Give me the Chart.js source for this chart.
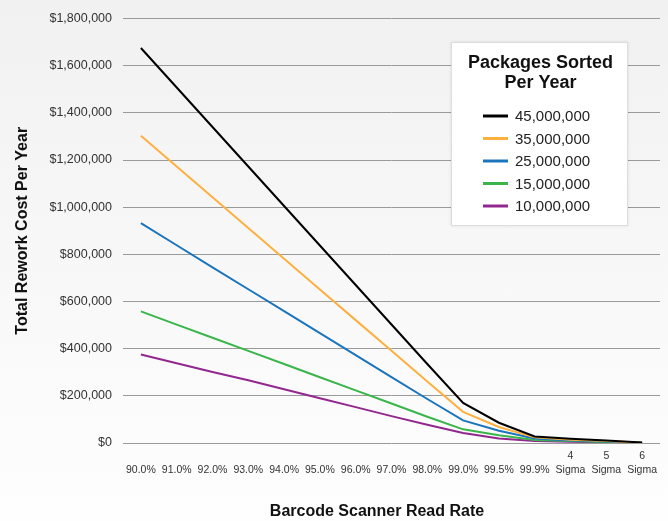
<!DOCTYPE html>
<html>
<head>
<meta charset="utf-8">
<script src="https://cdn.jsdelivr.net/npm/chart.js@4.4.1/dist/chart.umd.min.js"></script>
<style>
    html, body { margin: 0; padding: 0; }
    body { width: 668px; height: 521px; background: linear-gradient(#f1f1f1, #fefefe); }
    #chartContainer { position: relative; width: 668px; height: 521px; }
</style>
</head>
<body>
<div id="chartContainer"><canvas id="reworkChart"></canvas></div>
<script>
// Chart data
const readRates = ["90.0%", "91.0%", "92.0%", "93.0%", "94.0%", "95.0%", "96.0%", "97.0%",
    "98.0%", "99.0%", "99.5%", "99.9%", "4 Sigma", "5 Sigma", "6 Sigma"];
const seriesNames = ["45,000,000", "35,000,000", "25,000,000", "15,000,000", "10,000,000"];
const pkg45M = [1675000, 1507500, 1340000, 1172500, 1005000, 837500, 670000, 502500, 335000, 170000, 86000, 28000, 18000, 11000, 2000];
const pkg35M = [1302500, 1172000, 1042000, 912000, 781500, 651000, 521000, 391000, 260500, 132000, 68000, 24000, 14000, 8000, 1500];
const pkg25M = [932000, 838500, 745000, 652000, 559000, 466000, 372500, 279500, 186500, 96000, 52000, 19000, 11000, 6000, 1000];
const pkg15M = [558000, 502000, 446500, 390500, 335000, 279000, 223000, 167500, 111500, 58000, 33000, 13000, 8000, 4000, 800];
const pkg10M = [375000, 338000, 301000, 266000, 228000, 190000, 152000, 114000, 77000, 42000, 19000, 8000, 5000, 3000, 500];
const yTickMax = 1800000;
const yTickStep = 200000;
const legendTitle = ["Packages Sorted", "Per Year"];
const xTitle = "Barcode Scanner Read Rate";

const colors = ["#000000", "#FBB040", "#1B75BC", "#39B54A", "#92278F"];
const sans = "'Liberation Sans', Arial, sans-serif";

const allSeries = [pkg45M, pkg35M, pkg25M, pkg15M, pkg10M];
const data = {
    labels: readRates,
    datasets: allSeries.map(function (values, i) {
        return {
            label: seriesNames[i],
            data: values,
            borderColor: colors[i],
            backgroundColor: colors[i],
            borderWidth: 2,
            pointRadius: 0,
            tension: 0,
            fill: false
        };
    })
};

// Legend box inside the plot + x axis title (centred a bit left of the plot centre)
const overlay = {
    id: "overlay",
    afterDatasetsDraw(chart) {
        const ctx = chart.ctx;
        const x = 451, y = 42, w = 177, h = 184;
        ctx.save();
        ctx.shadowColor = "rgba(0,0,0,0.10)";
        ctx.shadowBlur = 3;
        ctx.fillStyle = "#ffffff";
        ctx.fillRect(x, y, w, h);
        ctx.shadowColor = "transparent";
        ctx.strokeStyle = "#dddddd";
        ctx.lineWidth = 1;
        ctx.strokeRect(x + 0.5, y + 0.5, w - 1, h - 1);

        ctx.fillStyle = "#111111";
        ctx.font = "bold 18px " + sans;
        ctx.textAlign = "center";
        ctx.textBaseline = "middle";
        legendTitle.forEach(function (line, i) {
            ctx.fillText(line, x + w / 2 + 1, 63 + i * 20.5);
        });

        ctx.font = "15px " + sans;
        ctx.textAlign = "left";
        chart.data.datasets.forEach(function (ds, i) {
            const yy = 116 + i * 22.5;
            ctx.strokeStyle = ds.borderColor;
            ctx.lineWidth = 3;
            ctx.beginPath();
            ctx.moveTo(483, yy);
            ctx.lineTo(508, yy);
            ctx.stroke();
            ctx.fillStyle = "#222222";
            ctx.fillText(ds.label, 515, yy + 1);
        });

        ctx.font = "bold 16px " + sans;
        ctx.textAlign = "center";
        ctx.fillStyle = "#111111";
        ctx.fillText(xTitle, 377, 512);
        ctx.restore();
    }
};

const options = {
    responsive: true,
    maintainAspectRatio: false,
    animation: false,
    layout: { padding: { top: 16, right: 8, left: 0, bottom: 0 } },
    plugins: {
        legend: { display: false },
        tooltip: { enabled: false }
    },
    scales: {
        x: {
            offset: true,
            grid: { display: false, drawTicks: false },
            border: { display: false },
            ticks: {
                autoSkip: false,
                maxRotation: 0,
                minRotation: 0,
                padding: 7,
                color: "#333333",
                font: { family: sans, size: 10.5, lineHeight: 1.25 },
                callback: function (value, index) {
                    const label = readRates[index];
                    return label.indexOf(" ") > -1 ? label.split(" ") : ["", label];
                }
            },
            afterFit: function (scale) { scale.height = 78; }
        },
        y: {
            min: 0,
            max: yTickMax,
            grid: { color: "#9a9a9a", lineWidth: 1, drawTicks: false },
            border: { display: false },
            ticks: {
                stepSize: yTickStep,
                padding: 11,
                color: "#333333",
                font: { family: sans, size: 12.5 },
                callback: function (value) {
                    return "$" + value.toLocaleString("en-US");
                }
            },
            title: {
                display: true,
                text: "Total Rework Cost Per Year",
                color: "#111111",
                font: { family: sans, size: 16, weight: "bold" },
                padding: { top: 13, bottom: 0 }
            },
            afterFit: function (scale) { scale.width = 123; }
        }
    }
};

// Create chart
const ctx = document.getElementById("reworkChart").getContext("2d");
new Chart(ctx, {
    type: "line",
    data: data,
    options: options,
    plugins: [overlay]
});
</script>
</body>
</html>
